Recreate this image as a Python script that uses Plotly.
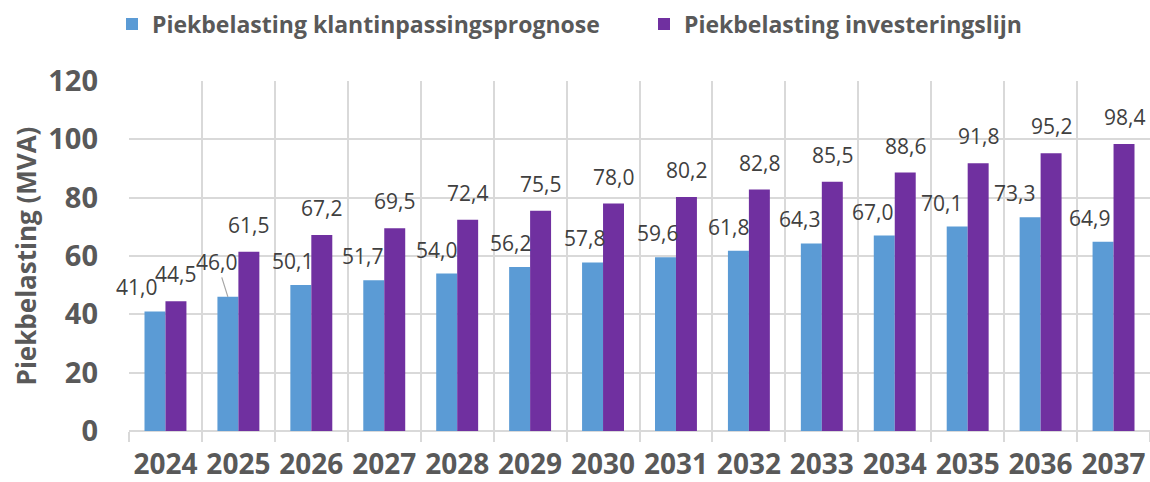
import plotly.graph_objects as go

# Data
years = ['2024', '2025', '2026', '2027', '2028', '2029', '2030',
         '2031', '2032', '2033', '2034', '2035', '2036', '2037']
prognose = [41.0, 46.0, 50.1, 51.7, 54.0, 56.2, 57.8, 59.6, 61.8, 64.3, 67.0, 70.1, 73.3, 64.9]
investering = [44.5, 61.5, 67.2, 69.5, 72.4, 75.5, 78.0, 80.2, 82.8, 85.5, 88.6, 91.8, 95.2, 98.4]
y_ticks = [0, 20, 40, 60, 80, 100, 120]

blue = '#5B9BD5'
purple = '#7030A0'
grey_txt = '#595959'
label_txt = '#404040'
grid = '#D9D9D9'
font = 'Open Sans'

# horizontal shift (px) of the blue labels, as placed by hand in the original
blue_dx = [-18, -10, -8, -11, -10, -9, -8, -8, -10, -12, -12, -16, -16, -14]

pos = list(range(len(years)))
bounds = [p - 0.5 for p in pos] + [pos[-1] + 0.5]

W, H = 1150, 482
L, T, B = 129, 81, 51


def fmt(v):
    return f'{v:.1f}'.replace('.', ',')


fig = go.Figure()
fig.add_trace(go.Bar(
    x=pos, y=prognose, name='Piekbelasting klantinpassingsprognose',
    marker=dict(color=blue, line=dict(width=0)), legend='legend',
))
fig.add_trace(go.Bar(
    x=pos, y=investering, name='Piekbelasting investeringslijn',
    marker=dict(color=purple, line=dict(width=0)), legend='legend2',
))

lab_font = dict(family=font, size=21, color=label_txt)
# data labels
for i, v in zip(pos, prognose):
    if years[i] == '2025':
        # label pulled away from the bar, with a leader line
        fig.add_annotation(
            x=i, y=v, xshift=-10.5, text=fmt(v), showarrow=True,
            arrowhead=0, arrowwidth=1.2, arrowcolor='#A6A6A6',
            ax=-11, ay=-35, font=lab_font,
        )
    else:
        fig.add_annotation(
            x=i, y=v, xshift=-10.5 + blue_dx[i], yshift=8, yanchor='bottom',
            text=fmt(v), showarrow=False, font=lab_font,
        )
for i, v in zip(pos, investering):
    fig.add_annotation(
        x=i, y=v, xshift=10.5, yshift=11, yanchor='bottom',
        text=fmt(v), showarrow=False, font=lab_font,
    )

leg_font = dict(family=font, size=23, color=grey_txt, weight='bold')
plot_w = W - L
fig.update_layout(
    width=W, height=H,
    margin=dict(l=L, r=0, t=T, b=B),
    plot_bgcolor='white', paper_bgcolor='white',
    barmode='group', bargap=0.425, bargroupgap=0,
    font=dict(family=font, color=grey_txt),
    showlegend=True,
    legend=dict(orientation='h', x=(112 - L) / plot_w, xref='paper',
                y=(H - 24) / H, yref='container',
                xanchor='left', yanchor='middle', font=leg_font, itemwidth=30),
    legend2=dict(orientation='h', x=(644 - L) / plot_w, xref='paper',
                 y=(H - 24) / H, yref='container',
                 xanchor='left', yanchor='middle', font=leg_font, itemwidth=30),
)

fig.update_xaxes(
    range=[-0.5, len(years) - 0.5],
    tickvals=pos, ticktext=years, ticks='',
    showgrid=False, showline=False, zeroline=False,
    minor=dict(tickvals=bounds, showgrid=True, gridcolor=grid, gridwidth=2,
               ticks='outside', ticklen=10, tickcolor=grid, tickwidth=2),
    tickfont=dict(family=font, size=28, color=grey_txt, weight='bold'),
    ticklabelstandoff=14,
    automargin=False,
)
fig.update_yaxes(
    range=[0, 120], tickvals=y_ticks,
    showgrid=True, gridcolor=grid, gridwidth=2,
    zeroline=True, zerolinecolor=grid, zerolinewidth=2,
    tickfont=dict(family=font, size=29, color=grey_txt, weight='bold'),
    ticklabelstandoff=30,
    title=dict(text='Piekbelasting (MVA)', standoff=4,
               font=dict(family=font, size=26, color=grey_txt, weight='bold')),
    automargin=False,
)

# drop the default 8px page margin so the figure fills the window exactly
fig.write_html('out.html', config={'displayModeBar': False},
               post_script="document.body.style.margin='0';")
